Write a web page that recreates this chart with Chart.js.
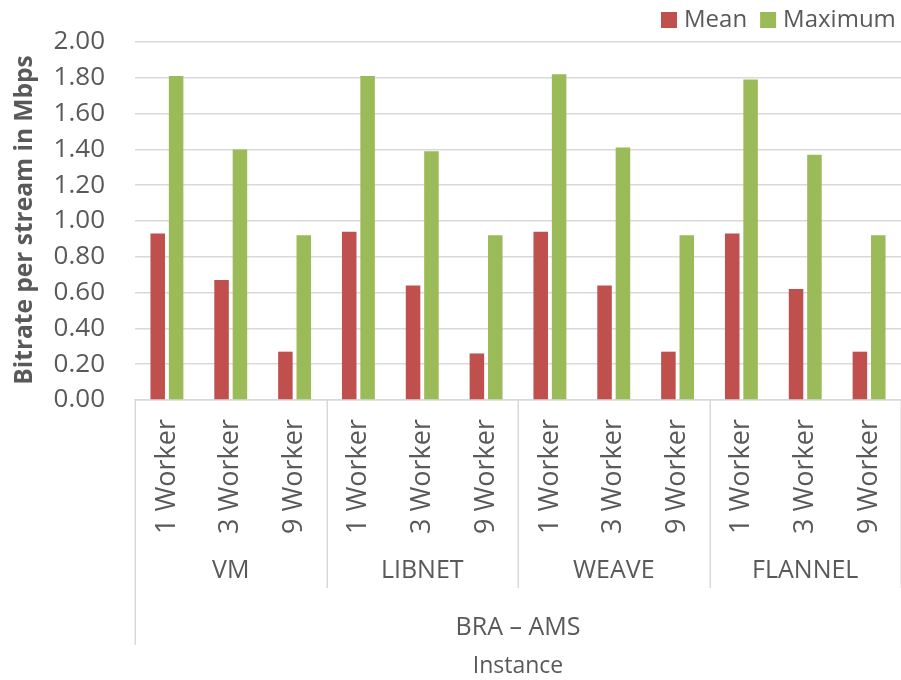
<!DOCTYPE html>
<html>
<head>
<meta charset="utf-8">
<script src="https://cdn.jsdelivr.net/npm/chart.js@4.4.1/dist/chart.umd.min.js"></script>
<style>
  html, body { margin: 0; padding: 0; background: #fff; }
  #wrap { width: 901px; height: 680px; position: relative; }
</style>
</head>
<body>
<div id="wrap"><canvas id="c" width="901" height="680"></canvas></div>
<script>
// Bitrate per stream (Mbps), BRA – AMS, by network setup and worker count
const groups = ['VM', 'LIBNET', 'WEAVE', 'FLANNEL'];
const workers = ['1 Worker', '3 Worker', '9 Worker'];
const region = 'BRA – AMS';
const axisTitleX = 'Instance';
const axisTitleY = 'Bitrate per stream in Mbps';
const yTicks = [0, 0.2, 0.4, 0.6, 0.8, 1.0, 1.2, 1.4, 1.6, 1.8, 2.0];

const meanValues = [0.93, 0.67, 0.27, 0.94, 0.64, 0.26, 0.94, 0.64, 0.27, 0.93, 0.62, 0.27];
const maxValues  = [1.81, 1.40, 0.92, 1.81, 1.39, 0.92, 1.82, 1.41, 0.92, 1.79, 1.37, 0.92];

const FONT = "'Open Sans', 'DejaVu Sans', sans-serif";
const TEXT = '#595959';
const GRID = '#d9d9d9';

const labels = [];
groups.forEach(() => workers.forEach(w => labels.push(w)));

// Draws the legend, the y-axis title and the grouped category axis
const decorations = {
  id: 'decorations',
  afterDraw(chart) {
    const ctx = chart.ctx;
    const x = chart.scales.x;
    const area = chart.chartArea;
    const per = workers.length;
    const step = x.getPixelForValue(1) - x.getPixelForValue(0);
    const edge = i => x.getPixelForValue(i) - step / 2;

    ctx.save();
    // group dividers
    ctx.strokeStyle = GRID;
    ctx.lineWidth = 1.5;
    for (let g = 0; g <= groups.length; g++) {
      const px = Math.round(edge(g * per)) + 0.25;
      const bottom = g === 0 ? 645 : 588;
      ctx.beginPath();
      ctx.moveTo(px, area.bottom);
      ctx.lineTo(px, bottom);
      ctx.stroke();
    }

    // group labels
    ctx.fillStyle = TEXT;
    ctx.textAlign = 'center';
    ctx.textBaseline = 'middle';
    ctx.font = '25px ' + FONT;
    groups.forEach((g, i) => {
      const cx = (edge(i * per) + edge((i + 1) * per)) / 2;
      ctx.fillText(g, cx, 571);
    });
    const mid = (area.left + area.right) / 2;
    ctx.fillText(region, mid, 628);
    ctx.font = '23px ' + FONT;
    ctx.fillText(axisTitleX, mid, 666);

    // y-axis title
    ctx.save();
    ctx.translate(25, 220);
    ctx.rotate(-Math.PI / 2);
    ctx.font = 'bold 24.5px ' + FONT;
    ctx.fillText(axisTitleY, 0, 0);
    ctx.restore();

    // legend
    ctx.textAlign = 'left';
    ctx.font = '24px ' + FONT;
    let lx = 661;
    chart.data.datasets.forEach(ds => {
      ctx.fillStyle = ds.backgroundColor;
      ctx.fillRect(lx, 12, 16, 16);
      ctx.fillStyle = TEXT;
      ctx.fillText(ds.label, lx + 23, 20);
      lx += 23 + ctx.measureText(ds.label).width + 13;
    });
    ctx.restore();
  }
};

new Chart(document.getElementById('c'), {
  type: 'bar',
  data: {
    labels: labels,
    datasets: [
      { label: 'Mean', data: meanValues, backgroundColor: '#C0504D' },
      { label: 'Maximum', data: maxValues, backgroundColor: '#9BBB59' }
    ]
  },
  options: {
    responsive: false,
    animation: false,
    devicePixelRatio: 1,
    layout: { padding: { top: 42, right: 0, bottom: 0, left: 0 } },
    categoryPercentage: 0.576,
    barPercentage: 0.79,
    plugins: {
      legend: { display: false },
      title: { display: false },
      tooltip: { enabled: false }
    },
    scales: {
      x: {
        grid: { display: false, drawTicks: false },
        border: { display: true, color: GRID, width: 1.5 },
        ticks: {
          color: TEXT,
          font: { family: FONT, size: 27 },
          minRotation: 90,
          maxRotation: 90,
          padding: 19,
          autoSkip: false
        },
        afterFit(scale) {
          scale.height = 280;
          scale.paddingLeft = 0;
          scale.paddingRight = 0;
        }
      },
      y: {
        min: 0,
        max: 2,
        afterBuildTicks(scale) { scale.ticks = yTicks.map(v => ({ value: v })); },
        grid: { color: GRID, lineWidth: 1.5, drawTicks: false },
        border: { display: false },
        ticks: {
          color: TEXT,
          font: { family: FONT, size: 26 },
          padding: 30,
          callback: v => Number(v).toFixed(2)
        },
        afterFit(scale) {
          scale.width = 135;
          scale.paddingTop = 0;
          scale.paddingBottom = 0;
        }
      }
    }
  },
  plugins: [decorations]
});
</script>
</body>
</html>
